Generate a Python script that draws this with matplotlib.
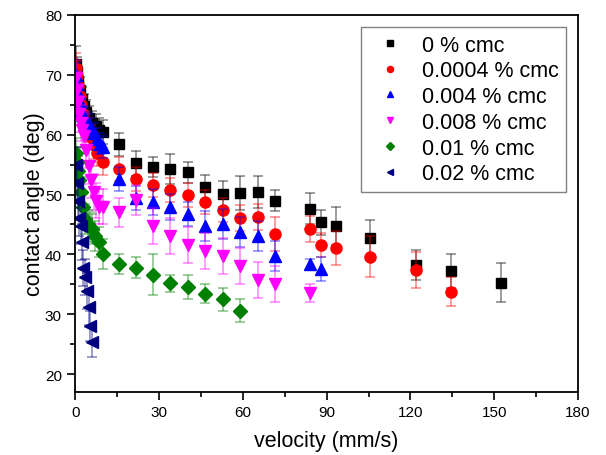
import matplotlib

matplotlib.use("Agg")
import matplotlib.pyplot as plt
from matplotlib.ticker import MultipleLocator

plt.rcParams["font.family"] = ["Liberation Sans", "DejaVu Sans"]

labels = ["0 % cmc", "0.0004 % cmc", "0.004 % cmc", "0.008 % cmc", "0.01 % cmc", "0.02 % cmc"]

# 0 % cmc
v0 = [0.4, 0.8, 1.2, 1.8, 2.4, 3.2, 4.0, 5.0, 6.2, 7.4, 8.6, 9.8, 15.8, 21.8, 27.8, 34.0,
      40.4, 46.6, 52.8, 59.1, 65.3, 71.4, 83.9, 88.1, 93.4, 105.5, 122.0, 134.5, 152.5]
a0 = [71.8, 70.5, 69.0, 67.5, 66.0, 64.8, 63.8, 62.8, 62.0, 61.5, 60.8, 60.4, 58.4, 55.2, 54.6, 54.2,
      53.7, 51.2, 50.1, 50.3, 50.4, 49.0, 47.6, 45.4, 44.7, 42.8, 38.3, 37.2, 35.3]
e0 = [3.0, 2.5, 2.5, 2.2, 2.0, 2.0, 2.0, 2.0, 2.0, 2.0, 2.0, 2.0, 1.9, 2.1, 1.7, 2.5,
      1.8, 2.1, 2.2, 2.8, 2.7, 1.7, 2.6, 2.1, 3.2, 3.0, 2.5, 2.8, 3.3]

# 0.0004 % cmc
v1 = [0.3, 0.7, 1.1, 1.6, 2.2, 2.9, 3.7, 4.6, 5.6, 6.7, 8.0, 9.8, 15.8, 21.8, 27.8, 34.0,
      40.4, 46.6, 52.8, 59.1, 65.3, 71.4, 83.9, 88.1, 93.4, 105.5, 122.0, 134.5]
a1 = [71.2, 69.8, 68.2, 66.5, 65.0, 63.5, 62.0, 60.8, 59.6, 58.2, 57.0, 55.5, 54.2, 52.6, 51.6, 50.7,
      50.0, 48.7, 47.4, 46.1, 46.3, 43.4, 44.2, 41.6, 41.1, 39.6, 37.4, 33.8]
e1 = [2.5, 2.5, 2.2, 2.2, 2.0, 2.0, 2.0, 2.0, 2.0, 2.2, 2.2, 2.2, 2.0, 2.0, 2.0, 2.0,
      2.0, 2.0, 2.0, 2.2, 2.2, 2.8, 2.2, 2.0, 2.8, 3.4, 3.0, 2.5]

# 0.004 % cmc
v2 = [0.3, 0.7, 1.1, 1.6, 2.2, 3.0, 3.8, 4.8, 5.8, 6.8, 7.8, 8.8, 10.1, 15.8, 21.8, 27.8,
      34.0, 40.4, 46.6, 52.8, 59.1, 65.3, 71.4, 83.9, 88.1]
a2 = [70.0, 68.5, 67.0, 65.5, 64.2, 63.0, 62.0, 61.6, 61.0, 60.2, 59.3, 58.5, 57.9, 52.6, 49.5, 48.7,
      47.9, 46.8, 44.8, 45.1, 43.8, 43.1, 39.8, 38.4, 37.6]
e2 = [2.0, 2.0, 2.0, 2.0, 2.0, 1.8, 1.8, 1.8, 1.8, 1.8, 1.8, 1.8, 1.8, 2.0, 2.0, 2.2,
      2.2, 2.0, 2.5, 2.5, 2.5, 2.5, 2.5, 0.8, 2.0]

# 0.008 % cmc
v3 = [0.3, 0.6, 1.0, 1.5, 2.0, 2.5, 3.0, 3.8, 4.8, 5.6, 6.6, 7.6, 8.6, 9.8, 15.8, 21.8,
      27.8, 34.0, 40.4, 46.6, 52.8, 59.1, 65.3, 71.4, 83.9]
a3 = [69.5, 67.5, 65.5, 63.5, 62.0, 60.8, 59.8, 57.5, 54.8, 52.5, 50.4, 49.0, 48.0, 48.0, 47.0, 49.1,
      44.8, 43.0, 41.6, 40.5, 39.7, 38.1, 35.7, 35.1, 33.5]
e3 = [3.0, 3.0, 3.0, 3.0, 3.0, 3.0, 3.0, 3.0, 3.0, 3.0, 3.0, 3.0, 3.0, 3.0, 2.5, 2.5,
      3.0, 3.0, 3.0, 3.0, 3.0, 3.0, 3.0, 3.0, 1.5]

# 0.01 % cmc
v4 = [0.3, 0.6, 1.0, 1.4, 2.0, 2.8, 3.6, 4.6, 5.4, 6.0, 7.2, 8.4, 9.8, 15.8, 21.8, 27.8,
      34.0, 40.4, 46.6, 52.8, 59.1]
a4 = [57.0, 55.5, 54.0, 52.5, 50.4, 48.0, 45.9, 45.0, 44.5, 44.2, 43.1, 42.0, 40.1, 38.4, 37.8, 36.6,
      35.2, 34.6, 33.4, 32.5, 30.6]
e4 = [2.5, 2.5, 2.5, 2.5, 2.5, 2.5, 2.5, 2.5, 2.5, 2.5, 2.5, 2.5, 2.5, 1.7, 1.7, 3.4,
      1.4, 2.0, 1.6, 1.9, 1.9]

# 0.02 % cmc
v5 = [0.3, 0.6, 1.0, 1.5, 2.0, 2.4, 2.8, 3.6, 4.2, 4.8, 5.4, 6.0]
a5 = [55.0, 52.0, 49.0, 46.0, 44.8, 42.0, 37.8, 36.2, 33.9, 31.2, 28.1, 25.3]
e5 = [3.0, 3.0, 3.0, 3.0, 3.0, 3.0, 3.0, 3.0, 3.0, 3.0, 2.5, 2.5]

series = [(v0, a0, e0), (v1, a1, e1), (v2, a2, e2), (v3, a3, e3), (v4, a4, e4), (v5, a5, e5)]
colors = ["black", "red", "blue", "magenta", "green", "navy"]
markers = ["s", "o", "^", "v", "D", "<"]
sizes = [7, 8, 8, 8, 7, 8]

fig = plt.figure(figsize=(6.06, 4.56), dpi=100)
ax = fig.add_axes([0.124, 0.138, 0.830, 0.827])

for (v, a, e), c, m, s, lab in zip(series, colors, markers, sizes, labels):
    ax.errorbar(v, a, yerr=e, fmt="none", ecolor=c, alpha=0.45,
                elinewidth=1.2, capsize=3.5, capthick=1.2)
    ax.plot(v, a, linestyle="none", marker=m, color=c, markersize=s,
            markeredgecolor=c, label=lab)

ax.set_xlim(0, 180)
ax.set_ylim(17, 80)
ax.xaxis.set_major_locator(MultipleLocator(30))
ax.xaxis.set_minor_locator(MultipleLocator(15))
ax.yaxis.set_major_locator(MultipleLocator(10))
ax.yaxis.set_minor_locator(MultipleLocator(5))
ax.set_yticks([20, 30, 40, 50, 60, 70, 80])
ax.tick_params(which="both", direction="out", top=False, right=False, labelsize=11, width=1.2)
ax.tick_params(which="major", length=6)
ax.tick_params(which="minor", length=3.5)
for sp in ax.spines.values():
    sp.set_linewidth(1.3)

ax.set_xlabel("velocity (mm/s)", fontsize=15.5, labelpad=8)
ax.set_ylabel("contact angle (deg)", fontsize=15.5, labelpad=0)

leg = ax.legend(loc="upper right", bbox_to_anchor=(0.976, 0.968), borderaxespad=0,
                fontsize=15.5, markerscale=0.55, fancybox=False, framealpha=1,
                edgecolor="gray", handletextpad=0.45, borderpad=0.35,
                labelspacing=0.22, handlelength=2.0)
leg.get_frame().set_linewidth(1.0)

fig.savefig("out.png", dpi=100)
plt.close(fig)
